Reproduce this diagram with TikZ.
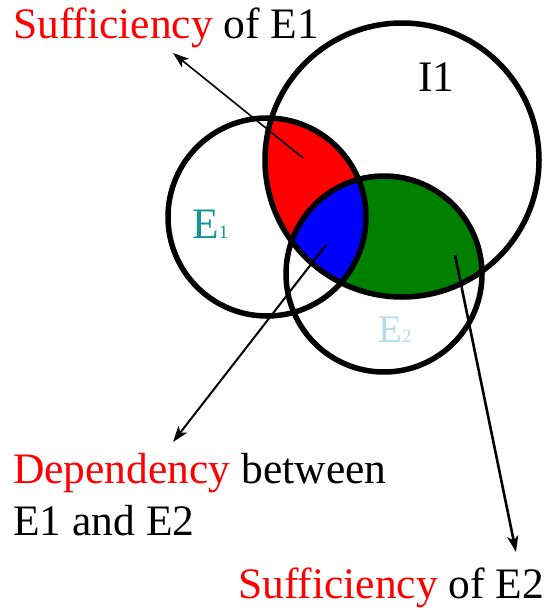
\documentclass[tikz,border=0pt]{standalone}
\usepackage{fontspec}
\setmainfont{Liberation Serif}
\newfontfamily\tnr{Liberation Serif}
\usetikzlibrary{arrows.meta}
\definecolor{eone}{RGB}{20,150,150}
\definecolor{etwo}{RGB}{180,220,226}
\definecolor{dgreen}{RGB}{0,128,0}
\begin{document}
\begin{tikzpicture}[x=1pt,y=-1pt,
  lbl/.style={inner sep=0pt,anchor=base west,font=\tnr\fontsize{43.5}{50}\selectfont},
  ring/.style={draw=black,line width=5.5pt},
  ptr/.style={draw=black,line width=2pt,-{Stealth[length=16pt,width=11pt,inset=4pt]}}]
\useasboundingbox (0,0) rectangle (545,610);
\fill[white] (0,0) rectangle (545,610);
% fills
\begin{scope}
  \clip (402,160) circle (137);
  \fill[red] (267,217) circle (99);
  \fill[dgreen] (384,274) circle (98);
  \clip (267,217) circle (99);
  \fill[blue] (384,274) circle (98);
\end{scope}
% circles
\node[ring,circle,minimum size=274pt,inner sep=0pt] (I1) at (402,160) {};
\node[ring,circle,minimum size=198pt,inner sep=0pt] (E1) at (267,217) {};
\node[ring,circle,minimum size=196pt,inner sep=0pt] (E2) at (384,274) {};
% labels
\node[lbl] (lI) at (418,92) {I1};
\node[lbl,text=eone] (lE1) at (192,238) {E{\fontsize{19}{20}\selectfont 1}};
\node[lbl,text=etwo,font=\tnr\fontsize{39}{45}\selectfont] (lE2) at (378,342) {E{\fontsize{19}{20}\selectfont 2}};
\node[lbl] (t1) at (13,38) {\textcolor{red}{Sufficiency} of E1};
\node[lbl] (t2a) at (13,483) {\textcolor{red}{Dependency} between};
\node[lbl] (t2b) at (13,535) {E1 and E2};
\node[lbl] (t3) at (238,598) {\textcolor{red}{Sufficiency} of E2};
% arrows
\coordinate (rS) at (303,158);
\coordinate (bS) at (326,245);
\coordinate (gS) at (455,255);
\coordinate (rT) at (173,53);
\coordinate (bT) at (173,442);
\coordinate (gT) at (516,552);
\draw[ptr,line width=1.6pt] (rS) -- (rT);
\draw[ptr] (bS) -- (bT);
\draw[ptr,line width=2.6pt] (gS) -- (gT);
\end{tikzpicture}
\end{document}
